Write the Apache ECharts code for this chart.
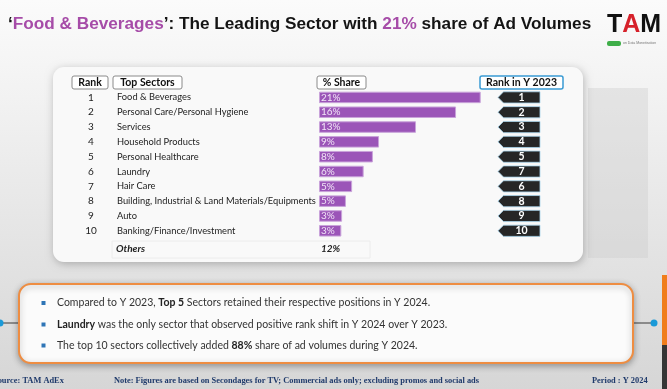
<!DOCTYPE html>
<html><head><meta charset="utf-8">
<script src="https://cdn.jsdelivr.net/npm/echarts@6/dist/echarts.min.js"></script>
<style>html,body{margin:0;padding:0;background:#eee;overflow:hidden}#c{width:667px;height:389px}</style>
</head><body><div id="c"></div>
<script>
// ---- data ----
const ranks = [1, 2, 3, 4, 5, 6, 7, 8, 9, 10];
const sectors = [
  'Food & Beverages',
  'Personal Care/Personal Hygiene',
  'Services',
  'Household Products',
  'Personal Healthcare',
  'Laundry',
  'Hair Care',
  'Building, Industrial & Land Materials/Equipments',
  'Auto',
  'Banking/Finance/Investment'
];
const shareLabels = ['21%', '16%', '13%', '9%', '8%', '6%', '5%', '5%', '3%', '3%'];
// bar lengths as drawn in the reference (in % share units)
const barLengths = [21.0, 17.8, 12.6, 7.8, 7.0, 5.8, 4.3, 3.5, 3.0, 2.9];
const rank2023 = [1, 2, 3, 4, 5, 7, 6, 8, 9, 10];
const othersLabel = 'Others';
const othersShare = '12%';

const chart = echarts.init(document.getElementById('c'), null, {renderer: 'canvas'});
const TXT = 'Lato, "Open Sans", sans-serif';
const PURPLE = '#a64ca8';

const headerBox = (x, w, label, stroke) => ([
  {type: 'rect', z: 5, shape: {x: x, y: 76, width: w, height: 13, r: 2},
   style: {fill: '#fff', stroke: stroke || '#8a8a8a', lineWidth: stroke ? 1.5 : 1}},
  {type: 'text', z: 6, style: {x: x + w / 2, y: 82.5, text: label, align: 'center', verticalAlign: 'middle',
   font: 'bold 10.5px ' + TXT, fill: '#111'}}
]);

const option = {
  animation: false,
  graphic: [
    {type: 'rect', z: -10, shape: {x: 0, y: 0, width: 667, height: 389},
     style: {fill: new echarts.graphic.LinearGradient(0, 0, 0, 1, [
       {offset: 0, color: '#fbfbfb'}, {offset: 0.25, color: '#f2f2f2'}, {offset: 1, color: '#d6d6d6'}])}},
    {type: 'rect', z: -9, shape: {x: 588, y: 88, width: 60, height: 170},
     style: {fill: 'rgba(200,200,200,0.35)'}},
    // table panel
    {type: 'rect', z: -5, shape: {x: 53, y: 67, width: 530, height: 195, r: 11},
     style: {fill: '#f9f9f9', shadowBlur: 8, shadowColor: 'rgba(0,0,0,0.25)', shadowOffsetY: 2, shadowOffsetX: 1}},
    // title
    {type: 'text', z: 10, style: {x: 8, y: 24, verticalAlign: 'middle',
      text: '{b|‘}{p|Food & Beverages}{b|’: The Leading Sector with }{p|21%}{b| share of Ad Volumes}',
      rich: {
        b: {font: 'bold 17.2px "Liberation Sans", Arial, sans-serif', fill: '#141414'},
        p: {font: 'bold 17.2px "Liberation Sans", Arial, sans-serif', fill: PURPLE}
      }}},
    // logo
    {type: 'text', z: 10, style: {x: 634, y: 25, align: 'center', verticalAlign: 'middle',
      text: '{t|T}{a|A}{t|M}', rich: {
        t: {font: 'bold 25px "Liberation Sans", Arial, sans-serif', fill: '#111'},
        a: {font: 'bold 25px "Liberation Sans", Arial, sans-serif', fill: '#d6212a'}}}},
    {type: 'rect', z: 10, shape: {x: 607, y: 41, width: 14, height: 5, r: 2}, style: {fill: '#3fae49'}},
    {type: 'text', z: 10, style: {x: 623, y: 43.5, verticalAlign: 'middle', text: 'on Data Monetisation',
      font: '3.5px sans-serif', fill: '#777'}},
    // header boxes
    ...headerBox(72, 36, 'Rank'),
    ...headerBox(113, 69, 'Top Sectors'),
    ...headerBox(317, 49, '% Share'),
    ...headerBox(480, 83, 'Rank in Y 2023', '#3a9bd3'),
    // others row
    {type: 'rect', z: -4, shape: {x: 112, y: 241, width: 258, height: 17}, style: {fill: 'none', stroke: '#ececec', lineWidth: 1}},
    {type: 'text', z: 10, style: {x: 116, y: 249, verticalAlign: 'middle', text: othersLabel,
      font: 'italic bold 10px ' + TXT, fill: '#222'}},
    {type: 'text', z: 10, style: {x: 321, y: 249, verticalAlign: 'middle', text: othersShare,
      font: 'italic bold 10px ' + TXT, fill: '#222'}},
    // connectors
    {type: 'line', z: -3, shape: {x1: 0, y1: 323, x2: 20, y2: 323}, style: {stroke: '#555', lineWidth: 1.2}},
    {type: 'circle', z: -3, shape: {cx: 0, cy: 323, r: 3.5}, style: {fill: '#1a9ad8'}},
    {type: 'line', z: -3, shape: {x1: 632, y1: 323, x2: 654, y2: 323}, style: {stroke: '#555', lineWidth: 1.2}},
    {type: 'circle', z: -3, shape: {cx: 654, cy: 323, r: 3.5}, style: {fill: '#1a9ad8'}},
    // right strip
    {type: 'rect', z: -3, shape: {x: 662, y: 275, width: 5, height: 70}, style: {fill: '#f07d1c'}},
    {type: 'rect', z: -3, shape: {x: 662, y: 345, width: 5, height: 44}, style: {fill: '#353535'}},
    // bottom box
    {type: 'rect', z: -2, shape: {x: 19, y: 284, width: 614, height: 79, r: 12},
     style: {fill: '#fbfbfb', stroke: '#ee8d42', lineWidth: 2, shadowBlur: 6, shadowColor: 'rgba(0,0,0,0.3)', shadowOffsetY: 2}},
    ...[303, 324.5, 345.5].map(y => ({type: 'rect', z: 10, shape: {x: 41.5, y: y - 2, width: 4, height: 4}, style: {fill: '#2e75b6'}})),
    {type: 'text', z: 10, style: {x: 57, y: 303, verticalAlign: 'middle',
      text: '{n|Compared to Y 2023, }{b|Top 5}{n| Sectors retained their respective positions in Y 2024.}',
      rich: {n: {font: '10.5px ' + TXT, fill: '#333'}, b: {font: 'bold 10.5px ' + TXT, fill: '#222'}}}},
    {type: 'text', z: 10, style: {x: 57, y: 324.5, verticalAlign: 'middle',
      text: '{b|Laundry}{n| was the only sector that observed positive rank shift in Y 2024 over Y 2023.}',
      rich: {n: {font: '10.5px ' + TXT, fill: '#333'}, b: {font: 'bold 10.5px ' + TXT, fill: '#222'}}}},
    {type: 'text', z: 10, style: {x: 57, y: 345.5, verticalAlign: 'middle',
      text: '{n|The top 10 sectors collectively added }{b|88%}{n| share of ad volumes during Y 2024.}',
      rich: {n: {font: '10.5px ' + TXT, fill: '#333'}, b: {font: 'bold 10.5px ' + TXT, fill: '#222'}}}},
    // footer
    {type: 'text', z: 10, style: {x: -7, y: 381, verticalAlign: 'middle', text: 'Source: TAM AdEx',
      font: 'bold 8.4px "Liberation Serif", serif', fill: '#1f3a6b'}},
    {type: 'text', z: 10, style: {x: 114, y: 381, verticalAlign: 'middle',
      text: 'Note: Figures are based on Secondages for TV; Commercial ads only; excluding promos and social ads',
      font: 'bold 8.4px "Liberation Serif", serif', fill: '#1f3a6b'}},
    {type: 'text', z: 10, style: {x: 592, y: 381, verticalAlign: 'middle', text: 'Period : Y 2024',
      font: 'bold 8.4px "Liberation Serif", serif', fill: '#1f3a6b'}}
  ],
  grid: {left: 319, top: 90, width: 231, height: 148.2, containLabel: false},
  xAxis: {type: 'value', min: 0, max: 30, show: false},
  yAxis: {
    type: 'category', data: sectors, inverse: true,
    axisLine: {show: false}, axisTick: {show: false}, splitLine: {show: false},
    axisLabel: {
      align: 'left', margin: 248, interval: 0,
      formatter: (v, i) => '{r|' + ranks[i] + '}{s|' + v + '}',
      rich: {
        r: {width: 40, align: 'center', fontFamily: TXT, fontSize: 10, color: '#222'},
        s: {padding: [0, 0, 0, 6], fontFamily: TXT, fontSize: 9.3, color: '#222'}
      }
    }
  },
  series: [
    {
      type: 'bar', data: barLengths, barWidth: 11.5, z: 3,
      itemStyle: {color: '#9b55b8', borderColor: '#c9a3da', borderWidth: 1},
      label: {show: true, position: 'insideLeft', distance: 2,
        formatter: p => shareLabels[p.dataIndex],
        fontFamily: TXT, fontSize: 10, color: '#f1e4f6'}
    },
    {
      type: 'custom', z: 4,
      data: rank2023.map((r, i) => [0, i, r]),
      renderItem: (params, api) => {
        const y = api.coord([0, api.value(1)])[1];
        const x0 = params.coordSys.x + 179;
        const h = 5.6;
        return {type: 'group', children: [
          {type: 'polygon', shape: {points: [[x0, y], [x0 + 5.5, y - h], [x0 + 42, y - h], [x0 + 42, y + h], [x0 + 5.5, y + h]]},
           style: {fill: '#262626', stroke: '#a8d4ec', lineWidth: 0.8}},
          {type: 'text', style: {x: x0 + 23.5, y: y, text: String(api.value(2)), align: 'center', verticalAlign: 'middle',
           font: 'bold 10.5px ' + TXT, fill: '#fff'}}
        ]};
      }
    }
  ]
};
chart.setOption(option);
</script>
</body></html>
